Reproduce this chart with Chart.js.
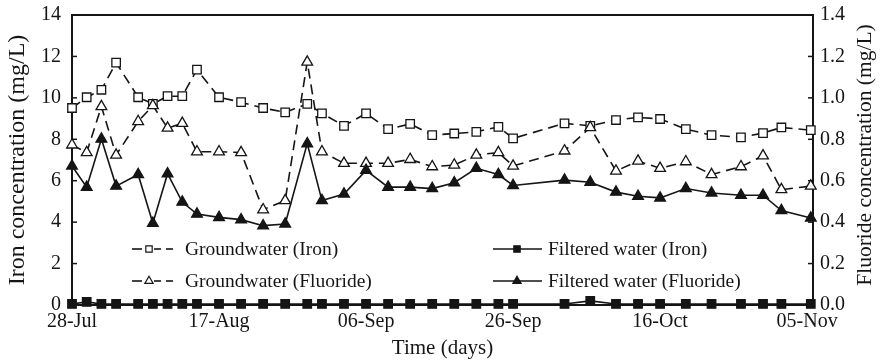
<!DOCTYPE html>
<html><head><meta charset="utf-8">
<script src="https://cdn.jsdelivr.net/npm/chart.js@4.4.1/dist/chart.umd.min.js"></script>
<style>html,body{margin:0;padding:0;background:#fff;} canvas{display:block;}</style>
</head><body>
<canvas id="c" width="881" height="361"></canvas>
<script>
// ---- data (days after 28-Jul) ----
const days = [0,2,4,6,9,11,13,15,17,20,23,26,29,32,34,37,40,43,46,49,52,55,58,60,67,70.5,74,77,80,83.5,87,91,94,96.5,100.5];
const tickDays = [0,20,40,60,80,100];
const tickLabels = ['28-Jul','17-Aug','06-Sep','26-Sep','16-Oct','05-Nov'];
const groundIron = [9.51,10.03,10.39,11.70,10.03,9.71,10.08,10.08,11.36,10.03,9.79,9.51,9.30,9.71,9.25,8.65,9.25,8.49,8.74,8.20,8.28,8.36,8.60,8.04,8.77,8.65,8.93,9.06,8.98,8.49,8.20,8.09,8.30,8.57,8.44];
const filteredIron = [0.05,0.15,0.05,0.05,0.05,0.05,0.05,0.05,0.05,0.05,0.05,0.05,0.05,0.05,0.05,0.05,0.05,0.05,0.05,0.05,0.05,0.05,0.05,0.05,0.05,0.2,0.05,0.05,0.05,0.05,0.05,0.05,0.05,0.05,0.05];
const groundFluoride = [0.773,0.736,0.958,0.724,0.886,0.963,0.854,0.877,0.740,0.740,0.736,0.460,0.504,1.173,0.740,0.684,0.684,0.684,0.703,0.668,0.676,0.724,0.736,0.671,0.744,0.857,0.647,0.695,0.660,0.692,0.630,0.668,0.720,0.557,0.574];
const filteredFluoride = [0.671,0.569,0.801,0.574,0.630,0.395,0.634,0.497,0.439,0.423,0.412,0.383,0.391,0.779,0.504,0.536,0.650,0.569,0.569,0.562,0.590,0.660,0.630,0.577,0.603,0.593,0.545,0.525,0.517,0.562,0.541,0.530,0.530,0.456,0.420];
const seriesNames = ['Groundwater (Iron)','Filtered water (Iron)','Groundwater (Fluoride)','Filtered water (Fluoride)'];
const axisTitles = {x:'Time (days)', y:'Iron concentration (mg/L)', y2:'Fluoride concentration (mg/L)'};

const INK = '#151515';
const FONT = "'Liberation Serif','Times New Roman',serif";
const DASH = [10,6];
function pts(vals){ return days.map((d,i)=>({x:d,y:vals[i]})); }

function ds(label, vals, axis, dashed, style, filled){
  return {
    label, data: pts(vals), yAxisID: axis, clip: false,
    borderColor: INK, borderWidth: 1.6, borderDash: dashed ? DASH : [],
    pointStyle: style, pointRadius: style === 'rect' ? 6 : 6.2, pointHoverRadius: 6,
    pointBorderWidth: 1.3, pointBorderColor: INK,
    pointBackgroundColor: filled ? INK : '#fff',
    tension: 0, fill: false, _dashed: dashed, _filled: filled
  };
}

const datasets = [
  ds(seriesNames[1], filteredIron, 'y', false, 'rect', true),
  ds(seriesNames[3], filteredFluoride, 'y2', false, 'triangle', true),
  ds(seriesNames[2], groundFluoride, 'y2', true, 'triangle', false),
  ds(seriesNames[0], groundIron, 'y', true, 'rect', false)
];

function marker(ctx, style, x, y, r, filled){
  ctx.save();
  ctx.beginPath();
  if (style === 'rect'){
    const s = r * Math.SQRT1_2;
    ctx.rect(x - s, y - s, 2*s, 2*s);
  } else {
    for (let k=0;k<3;k++){
      const a = k * 2*Math.PI/3;
      const px = x + Math.sin(a)*r, py = y - Math.cos(a)*r;
      k ? ctx.lineTo(px,py) : ctx.moveTo(px,py);
    }
    ctx.closePath();
  }
  ctx.fillStyle = filled ? INK : '#fff';
  ctx.fill();
  ctx.lineWidth = 1.2; ctx.strokeStyle = INK; ctx.setLineDash([]);
  ctx.stroke();
  ctx.restore();
}

const framePlugin = {
  id: 'frame',
  beforeDatasetsDraw(chart){
    const {ctx, chartArea: a, scales} = chart;
    ctx.save();
    ctx.strokeStyle = INK; ctx.lineWidth = 2; ctx.setLineDash([]);
    ctx.strokeRect(a.left, a.top, a.right - a.left, a.bottom - a.top);
    ctx.lineWidth = 1.5;
    scales.y.ticks.forEach(t => {
      const py = scales.y.getPixelForValue(t.value);
      ctx.beginPath(); ctx.moveTo(a.left, py); ctx.lineTo(a.left + 5, py); ctx.stroke();
    });
    scales.y2.ticks.forEach(t => {
      const py = scales.y2.getPixelForValue(t.value);
      ctx.beginPath(); ctx.moveTo(a.right, py); ctx.lineTo(a.right - 5, py); ctx.stroke();
    });
    // right axis title, reading bottom-to-top
    ctx.save();
    ctx.translate(865, a.top + 140);
    ctx.rotate(-Math.PI / 2);
    ctx.font = '21.5px ' + FONT;
    ctx.fillStyle = INK;
    ctx.textAlign = 'center';
    ctx.textBaseline = 'middle';
    ctx.fillText(axisTitles.y2, 0, 0);
    ctx.restore();
    ctx.restore();
  }
};

const legendPlugin = {
  id: 'innerLegend',
  afterDatasetsDraw(chart){
    const {ctx, chartArea: a} = chart;
    const cols = [a.left + 60, a.left + 421];
    const rows = [a.top + 234, a.top + 266];
    const order = [3, 0, 2, 1]; // dataset index in reading order
    ctx.save();
    ctx.font = '19.5px ' + FONT;
    ctx.fillStyle = INK;
    ctx.textBaseline = 'middle';
    order.forEach((di, k) => {
      const d = chart.data.datasets[di];
      const x0 = cols[k % 2], y = rows[Math.floor(k / 2)];
      ctx.strokeStyle = INK; ctx.lineWidth = 1.6;
      if (d._dashed){
        [[0,10],[22,29],[34,41]].forEach(s => {
          ctx.beginPath(); ctx.moveTo(x0 + s[0], y); ctx.lineTo(x0 + s[1], y); ctx.stroke();
        });
        marker(ctx, d.pointStyle, x0 + 17, y, d.pointStyle === 'rect' ? 4.5 : 4.8, d._filled);
        ctx.fillText(d.label, x0 + 53, y + 1);
      } else {
        ctx.beginPath(); ctx.moveTo(x0, y); ctx.lineTo(x0 + 49, y); ctx.stroke();
        marker(ctx, d.pointStyle, x0 + 24, y, d.pointStyle === 'rect' ? 4.5 : 4.8, d._filled);
        ctx.fillText(d.label, x0 + 55, y + 1);
      }
    });
    ctx.restore();
  }
};

const noPad = s => { s.paddingTop = 0; s.paddingBottom = 0; s.paddingLeft = 0; s.paddingRight = 0; };

new Chart(document.getElementById('c'), {
  type: 'line',
  data: { datasets },
  plugins: [framePlugin, legendPlugin],
  options: {
    responsive: false, devicePixelRatio: 1, animation: false,
    layout: { padding: { top: 15, left: 0, right: 0, bottom: 0 } },
    plugins: { legend: { display: false }, tooltip: { enabled: false } },
    elements: { line: { borderCapStyle: 'butt' } },
    scales: {
      x: {
        type: 'linear', min: 0, max: 100.8,
        afterBuildTicks: s => { s.ticks = tickDays.map(v => ({ value: v })); },
        afterFit: s => { s.height = 56; noPad(s); },
        grid: { display: false, drawTicks: false }, border: { display: false },
        ticks: { autoSkip: false, maxRotation: 0, padding: 5, color: INK, font: { family: FONT, size: 20 },
          callback: v => tickLabels[tickDays.indexOf(v)] },
        title: { display: true, text: axisTitles.x, color: INK, font: { family: FONT, size: 21 }, padding: { top: 0, bottom: 0 } }
      },
      y: {
        position: 'left', min: 0, max: 14,
        afterFit: s => { s.width = 72; noPad(s); },
        grid: { display: false, drawTicks: false }, border: { display: false },
        ticks: { stepSize: 2, padding: 11, color: INK, font: { family: FONT, size: 20 } },
        title: { display: true, text: axisTitles.y, color: INK, font: { family: FONT, size: 24 }, padding: { top: 3, bottom: 0 } }
      },
      y2: {
        position: 'right', min: 0, max: 1.4,
        afterFit: s => { s.width = 68; noPad(s); },
        grid: { display: false, drawTicks: false }, border: { display: false },
        ticks: { stepSize: 0.2, padding: 7, color: INK, font: { family: FONT, size: 20 }, callback: v => Number(v).toFixed(1) },
        title: { display: false }
      }
    }
  }
});
</script>
</body></html>
